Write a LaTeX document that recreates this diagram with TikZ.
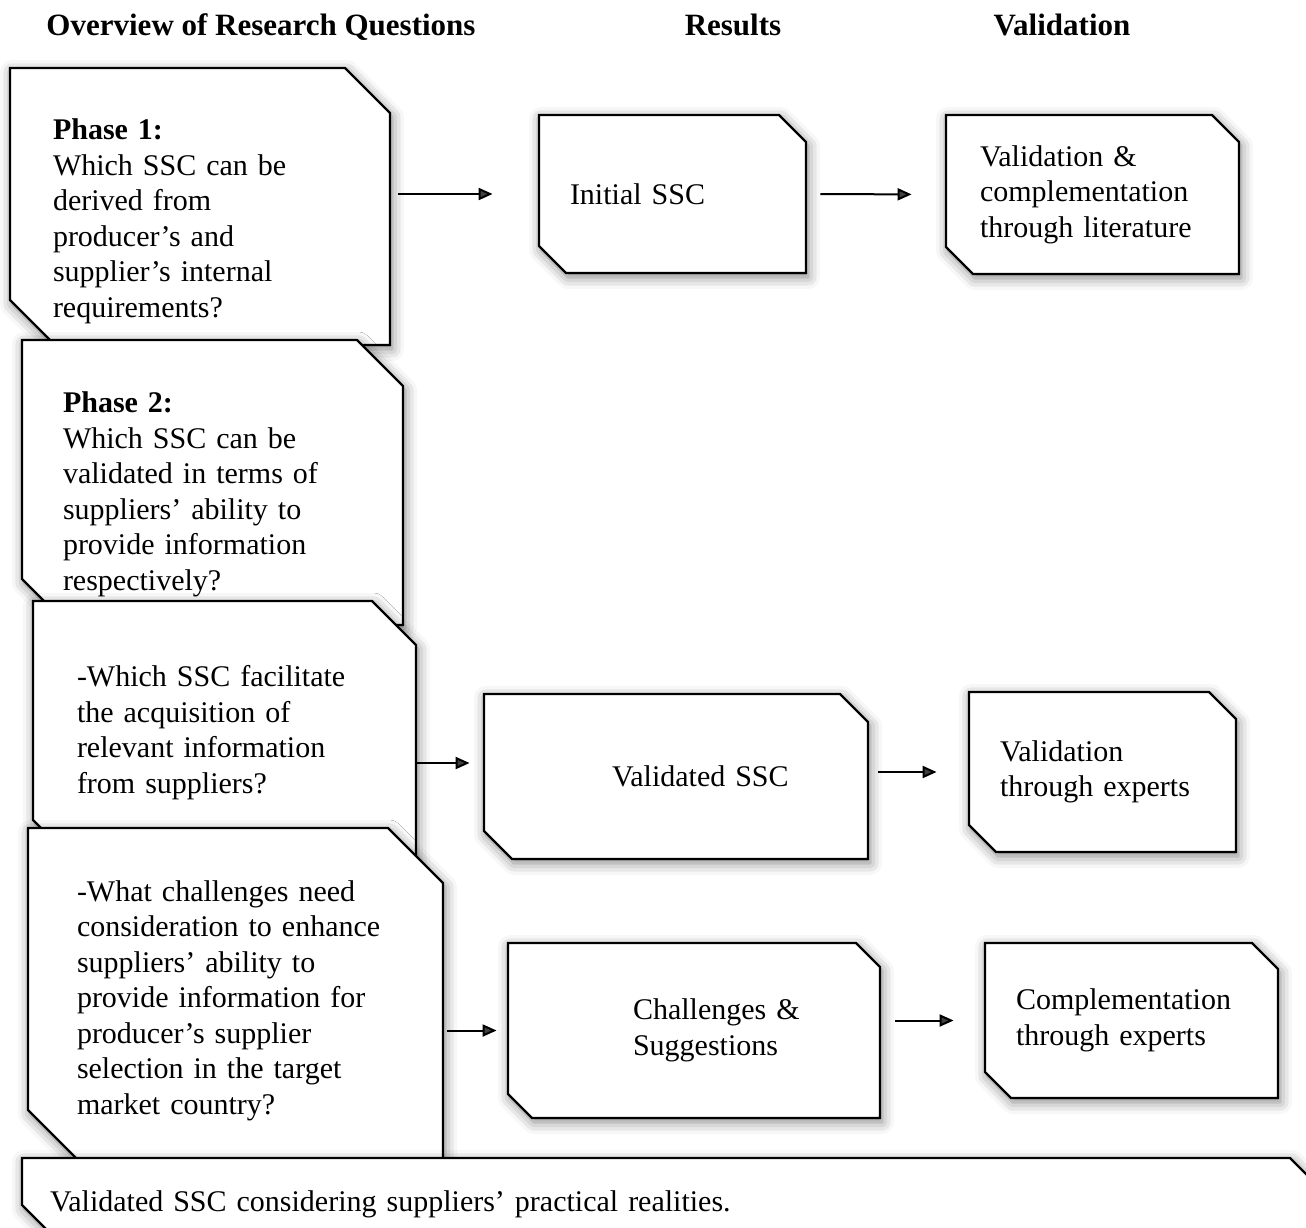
\documentclass[tikz,border=0pt]{standalone}
\usepackage{fontspec}
\setmainfont{Liberation Serif}
\usetikzlibrary{arrows.meta,shadows.blur}

% box with snipped top-right and bottom-left corners:
% name, left, top, right, bottom, cut, node options, text
\newcommand\snipbox[8]{%
  \path[boxshape] (#2,#3) -- ({#4-#6},#3) -- (#4,{#3+#6}) -- (#4,#5)
    -- ({#2+#6},#5) -- (#2,{#5-#6}) -- cycle;
  \node[boxtext,minimum width={(#4-#2)*.5pt},minimum height={(#5-#3)*.5pt},#7] (#1)
    at ({(#2+#4)/2},{(#3+#5)/2}) {#8};}

\begin{document}
\begin{tikzpicture}
        [x=.5pt,y=-.5pt,
        every node/.style={font=\fontsize{15}{17.75}\selectfont},
        boxshape/.style={draw,line width=1.2pt,fill=white,line join=miter,
            blur shadow={shadow xshift=1pt,shadow yshift=-2pt,shadow blur radius=6pt,shadow opacity=50}},
        boxtext/.style={inner sep=0pt,align=left},
        head/.style={anchor=base,font=\fontsize{15.5}{18}\selectfont\bfseries},
        shiftin/.style={execute at begin node={\leftskip=#1}},
        flow/.style={-{Triangle[length=7pt,width=6pt]},line width=1pt}]
        \useasboundingbox (0,0) rectangle (1306,1227);

        % column heads
        \node[head] (hq) at (261,35) {Overview of Research Questions};
        \node[head] (hr) at (733,35) {Results};
        \node[head] (hv) at (1062,35) {Validation};

        % research questions
        \snipbox{p1}{10}{68}{390}{345}{45}{text width=147pt,yshift=-7.5pt}
            {\textbf{Phase 1:}\\Which SSC can be\\derived from\\producer’s and\\supplier’s internal\\requirements?}
        \snipbox{p2}{22}{340}{403}{625}{46}{text width=149.5pt,yshift=-6pt}
            {\textbf{Phase 2:}\\Which SSC can be\\validated in terms of\\suppliers’ ability to\\provide information\\respectively?}
        \snipbox{p3}{33}{601}{416}{864}{44}{text width=147.5pt}
            {-Which SSC facilitate\\the acquisition of\\relevant information\\from suppliers?}
        \snipbox{p4}{28}{828}{443}{1165}{55}{text width=158.5pt,yshift=-2pt}
            {-What challenges need\\consideration to enhance\\suppliers’ ability to\\provide information for\\producer’s supplier\\selection in the target\\market country?}

        % results and validation
        \snipbox{r1}{539}{115}{806}{273}{27}{text width=102.5pt}{Initial SSC}
        \snipbox{v1}{946}{115}{1239}{274}{27}{text width=112.5pt}
            {Validation \&\\complementation\\through literature}
        \snipbox{r2}{484}{694}{868}{859}{28}{text width=161pt,shiftin=48.5pt}{Validated SSC}
        \snipbox{v2}{969}{692}{1236}{852}{27}{text width=102.5pt}{Validation\\through experts}
        \snipbox{r3}{508}{943}{880}{1118}{24}{text width=155pt,shiftin=47pt}
            {Challenges \&\\Suggestions}
        \snipbox{v3}{985}{943}{1278}{1098}{26}{text width=115.5pt}{Complementation\\through experts}

        \snipbox{sum}{22}{1158}{1335}{1250}{45}{text width=628.5pt}
            {Validated SSC considering suppliers’ practical realities.}

        \draw[flow,shorten <=4pt,shorten >=23pt] (p1.east |- r1.west) -- (r1.west);
        \draw[flow,shorten <=7pt,shorten >=17pt] (r1.east) -- (v1.west);
        \draw[flow,shorten >=7pt] ([yshift=-15.25pt]p3.east) -- ([yshift=6.75pt]r2.west);
        \draw[flow,shorten <=5pt,shorten >=16pt] (r2.east |- v2.west) -- (v2.west);
        \draw[flow,shorten <=2pt,shorten >=5.5pt] (p4.east |- r3.west) -- (r3.west);
        \draw[flow,shorten <=7.5pt,shorten >=15.5pt] (r3.east |- v3.west) -- (v3.west);
\end{tikzpicture}
\end{document}
